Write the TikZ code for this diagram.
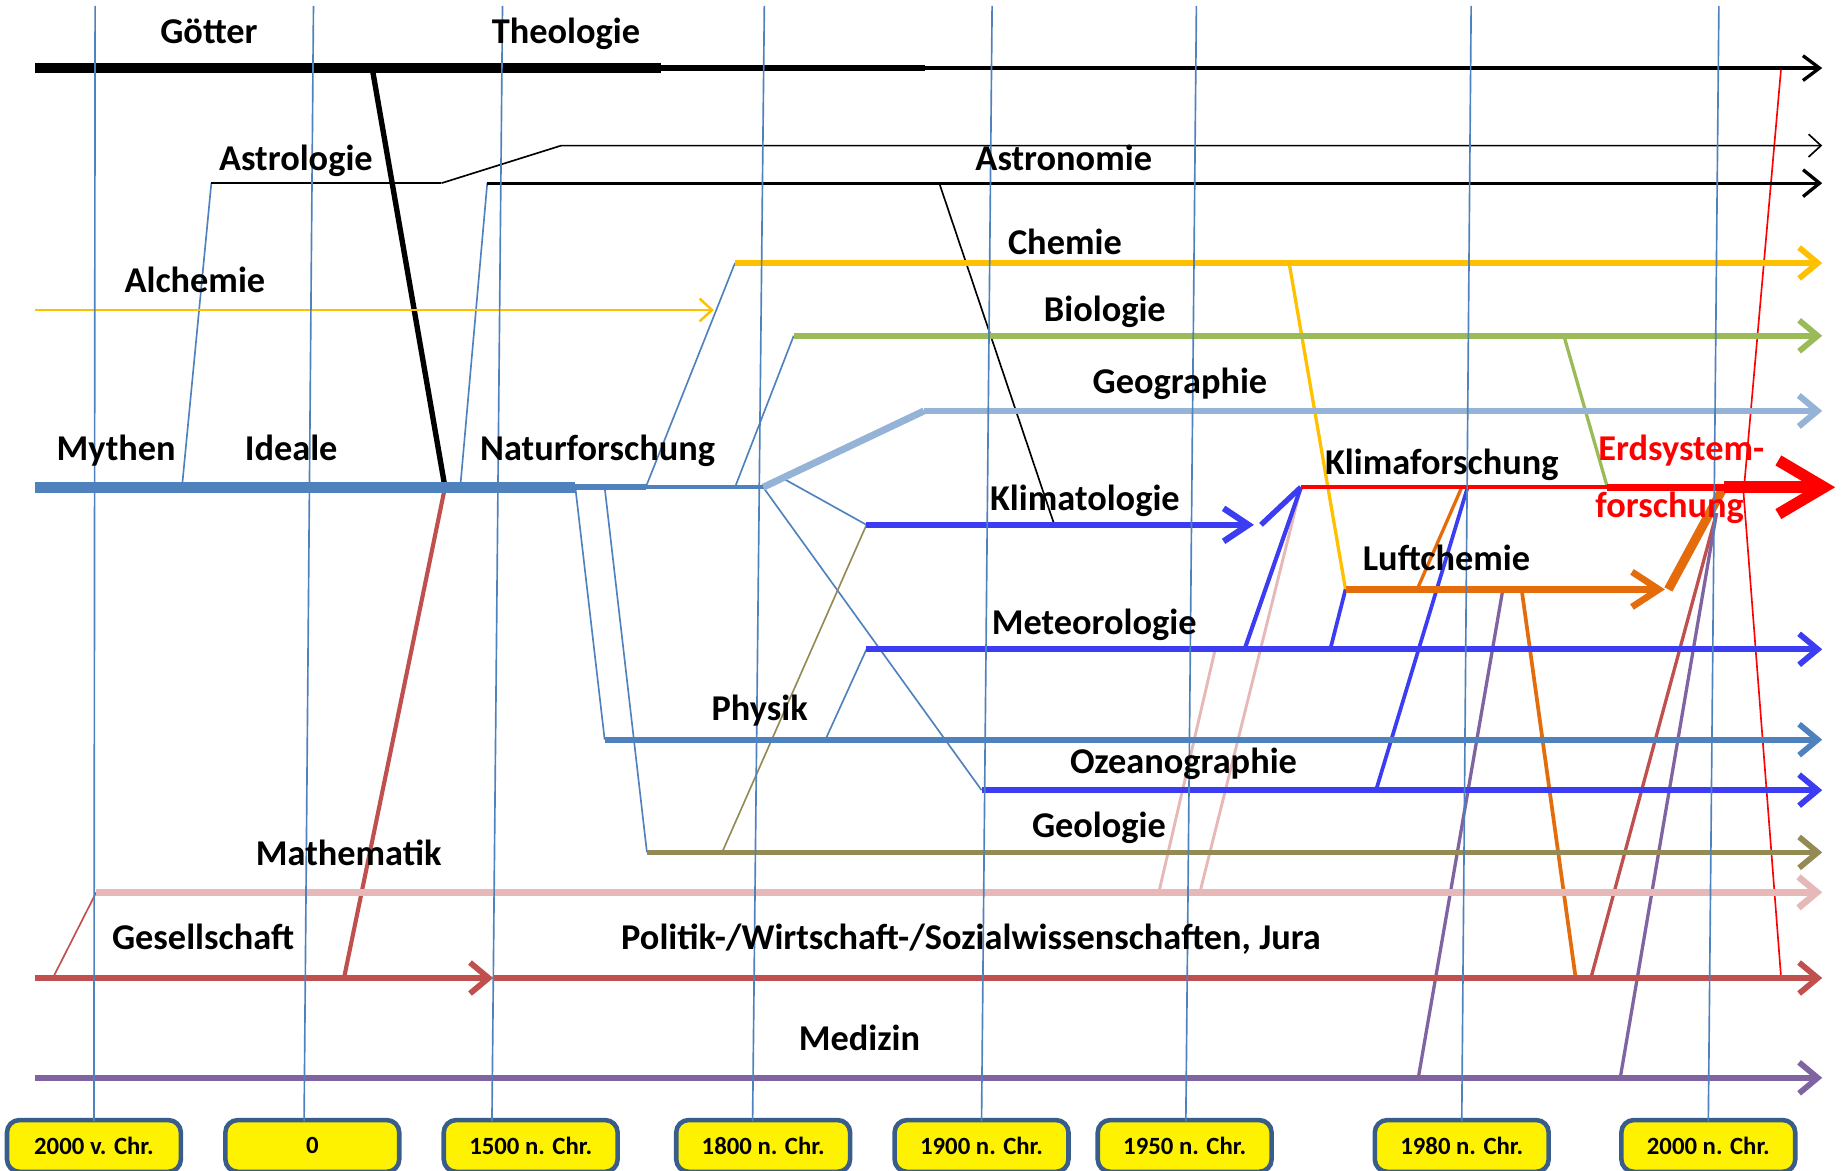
\documentclass[tikz,border=0pt]{standalone}
\usepackage{fontspec}
\setmainfont{Carlito}
\usetikzlibrary{arrows.meta, calc}
\definecolor{zeitblau}{HTML}{4F81BD}
\definecolor{geoblau}{HTML}{95B3D7}
\definecolor{chemgelb}{HTML}{FFC000}
\definecolor{biogruen}{HTML}{9BBB59}
\definecolor{klimablau}{HTML}{3C3CF2}
\definecolor{geooliv}{HTML}{948A54}
\definecolor{mathrosa}{HTML}{E6B9B8}
\definecolor{gesrot}{HTML}{C0504D}
\definecolor{medlila}{HTML}{8064A2}
\definecolor{luftorange}{HTML}{E46C0A}
\definecolor{boxrand}{HTML}{385D8A}

\begin{document}
\begin{tikzpicture}[x=0.01cm, y=-0.01cm,
    every node/.style={font=\bfseries\fontsize{8.8}{10}\selectfont},
    fach/.style={anchor=base, inner sep=0pt},
    duenn/.style={line width=0.4pt},
    strom/.style={line width=1.4pt, -{Straight Barb[length=4.5pt,width=7.5pt]}},
    jahr/.style={draw=boxrand, fill=yellow, line width=1.1pt, rounded corners=3pt, minimum width=1.48cm, minimum height=0.44cm, inner sep=0pt, font=\bfseries\fontsize{6}{7}\selectfont}
]
    \useasboundingbox (0,0) rectangle (1568,997);

    % Linienpunkte
    \coordinate (theoA) at (30,58);   \coordinate (theoB) at (290,58);  \coordinate (theoC) at (563,58);
    \coordinate (theoD) at (788,58);  \coordinate (theoE) at (835,58);  \coordinate (theoZ) at (1552,58);
    \coordinate (astrA) at (180,156); \coordinate (astrB) at (376,156); \coordinate (astrC) at (478,124);
    \coordinate (astrZ) at (1552,124);
    \coordinate (astnA) at (415,156); \coordinate (astnZ) at (1552,156);
    \coordinate (alchA) at (30,264);  \coordinate (alchZ) at (608,264);
    \coordinate (chemA) at (626,224); \coordinate (chemZ) at (1552,224);
    \coordinate (bioA) at (676,286);  \coordinate (bioZ) at (1552,286);
    \coordinate (geogA) at (787,350); \coordinate (geogZ) at (1552,350);
    \coordinate (mythA) at (30,415);  \coordinate (mythB) at (490,415); \coordinate (mythC) at (550,415);
    \coordinate (mythD) at (650,415);
    \coordinate (klimA) at (738,447); \coordinate (klimZ) at (1068,447);
    \coordinate (kfA) at (1108,415);  \coordinate (kfB) at (1369,415);  \coordinate (kfC) at (1468,415);
    \coordinate (kfZ) at (1563,415);
    \coordinate (luftA) at (1146,502); \coordinate (luftZ) at (1418,502);
    \coordinate (metA) at (738,553);  \coordinate (metZ) at (1552,553);
    \coordinate (physA) at (515,630); \coordinate (physZ) at (1552,630);
    \coordinate (ozeaA) at (836,673); \coordinate (ozeaZ) at (1552,673);
    \coordinate (geolA) at (551,726); \coordinate (geolZ) at (1552,726);
    \coordinate (mathA) at (82,760);  \coordinate (mathZ) at (1552,760);
    \coordinate (gesA) at (30,833);   \coordinate (gesB) at (420,833);  \coordinate (gesZ) at (1552,833);
    \coordinate (medA) at (30,918);   \coordinate (medZ) at (1552,918);
    \coordinate (esJ) at (1462,437);
    \coordinate (rotV) at (1485,420);
    \coordinate (geogK) at ($(mythD)!0.12!(geogA)$);

    % Verbindungen
    \draw[zeitblau, duenn] (155,0 |- mythA) -- (astrA);
    \draw[zeitblau, duenn] (392,0 |- mythA) -- (astnA);
    \draw[black, line width=1.3pt] (317,0 |- theoA) -- (379,0 |- mythA);
    \draw[gesrot, line width=1pt] (379,0 |- mythA) -- (293,0 |- gesA);
    \draw[zeitblau, duenn] (mythC) -- (chemA);
    \draw[zeitblau, duenn] (626,0 |- mythA) -- (bioA);
    \draw[zeitblau, duenn] (geogK) -- (klimA);
    \draw[zeitblau, duenn] (mythD) -- (ozeaA);
    \draw[geooliv, duenn] (klimA) -- (615,0 |- geolA);
    \draw[zeitblau, duenn] (703,0 |- physA) -- (metA);
    \draw[zeitblau, duenn] (mythB) -- (physA);
    \draw[zeitblau, duenn] (515,0 |- mythA) -- (geolA);
    \draw[gesrot, duenn] (45,0 |- gesA) -- (mathA);
    \draw[black, duenn] (800,0 |- astnA) -- (898,0 |- klimA);
    \draw[mathrosa, line width=0.7pt] (987,0 |- mathA) -- (1035,0 |- metA);
    \draw[mathrosa, line width=0.7pt] (1022,0 |- mathA) -- (kfA);
    \draw[klimablau, line width=1pt] (1060,0 |- metA) -- (kfA);
    \draw[klimablau, line width=1.3pt] (1074,0 |- klimA) -- (kfA);
    \draw[chemgelb, line width=0.8pt] (1098,0 |- chemA) -- (luftA);
    \draw[klimablau, line width=0.9pt] (1133,0 |- metA) -- (luftA);
    \draw[luftorange, line width=0.8pt] (1207,0 |- luftA) -- (1245,0 |- kfA);
    \draw[klimablau, line width=0.9pt] (1172,0 |- ozeaA) -- (1250,0 |- kfA);
    \draw[biogruen, line width=0.8pt] (1332,0 |- bioA) -- (kfB);
    \draw[medlila, line width=0.8pt] (1280,0 |- luftA) -- (1208,0 |- medA);
    \draw[luftorange, line width=0.9pt] (1296,0 |- luftA) -- (1342,0 |- gesA);
    \draw[gesrot, line width=0.8pt] (esJ) -- (1355,0 |- gesA);
    \draw[medlila, line width=0.8pt] (esJ) -- (1380,0 |- medA);
    \draw[red, line width=0.4pt] (1517,0 |- theoA) -- (rotV) -- (1517,0 |- gesA);

    % Hauptlinien
    \draw[black, line width=2.6pt] (theoA) -- (theoB);
    \draw[black, line width=2.3pt] (theoB) -- (theoC);
    \draw[black, line width=1.5pt] (theoC) -- (theoD);
    \draw[black, line width=1pt] (theoD) -- (theoE);
    \draw[black, line width=0.8pt, -{Straight Barb[length=4pt,width=6pt]}] (theoE) -- (theoZ);
    \draw[black, line width=0.6pt] (astrA) -- (astrB);
    \draw[black, duenn, -{Straight Barb[length=3pt,width=5.5pt]}] (astrB) -- (astrC) -- (astrZ);
    \draw[black, line width=0.8pt, -{Straight Barb[length=4pt,width=6.5pt]}] (astnA) -- (astnZ);
    \draw[chemgelb, line width=0.6pt, -{Straight Barb[length=3pt,width=5.5pt]}] (alchA) -- (alchZ);
    \draw[chemgelb, strom] (chemA) -- (chemZ);
    \draw[biogruen, strom] (bioA) -- (bioZ);
    \draw[geoblau, line width=1.7pt] (mythD) -- (geogA);
    \draw[geoblau, strom, line width=1.5pt] (geogA) -- (geogZ);
    \draw[zeitblau, line width=2.6pt] (mythA) -- (mythB);
    \draw[zeitblau, line width=1.4pt] (mythB) -- (mythC);
    \draw[zeitblau, line width=1pt] (mythC) -- (mythD);
    \draw[klimablau, line width=1.5pt, -{Straight Barb[length=6pt,width=8pt]}] (klimA) -- (klimZ);
    \draw[klimablau, strom] (metA) -- (metZ);
    \draw[zeitblau, strom] (physA) -- (physZ);
    \draw[klimablau, strom] (ozeaA) -- (ozeaZ);
    \draw[geooliv, strom] (geolA) -- (geolZ);
    \draw[mathrosa, strom, line width=1.6pt] (mathA) -- (mathZ);
    \draw[gesrot, strom] (gesA) -- (gesB);
    \draw[gesrot, strom] (gesB) -- (gesZ);
    \draw[medlila, strom] (medA) -- (medZ);
    \draw[luftorange, line width=1.6pt, -{Straight Barb[length=6.5pt,width=8.5pt]}] (luftA) -- (luftZ);
    \draw[luftorange, line width=2.2pt] (1421,0 |- luftA) -- (kfC);
    \draw[red, line width=1pt] (kfA) -- (kfB);
    \draw[red, line width=1.6pt] (kfB) -- (kfC);
    \draw[red, line width=2.8pt, -{Straight Barb[length=11pt,width=13pt]}] (kfC) -- (kfZ);

    % Zeitachse
    \foreach \xo/\xu/\xb/\jahrtext [count=\i] in {81/80/80/2000 v. Chr., 267/259/266/0, 428/419/452/1500 n. Chr., 651/641/650/1800 n. Chr., 845/836/836/1900 n. Chr., 1019/1010/1009/1950 n. Chr., 1253/1245/1245/1980 n. Chr., 1464/1455/1455/2000 n. Chr.}
    {
        \node[jahr] (jahr\i) at (\xb,976) {\jahrtext};
        \coordinate (zeitO\i) at (\xo,5);
        \coordinate (zeitU\i) at (\xu,955);
        \draw[zeitblau, duenn] (zeitO\i) -- (zeitU\i);
    }

    % Beschriftungen
    \node[fach] (goetter) at (178,37) {Götter};
    \node[fach] (theologie) at (482,37) {Theologie};
    \node[fach] (astrologie) at (252,145) {Astrologie};
    \node[fach] (astronomie) at (906,145) {Astronomie};
    \node[fach] (chemie) at (907,217) {Chemie};
    \node[fach] (alchemie) at (166,249) {Alchemie};
    \node[fach] (biologie) at (941,274) {Biologie};
    \node[fach] (geographie) at (1005,335) {Geographie};
    \node[fach] (mythen) at (99,392) {Mythen};
    \node[fach] (ideale) at (248,392) {Ideale};
    \node[fach] (naturf) at (509,392) {Naturforschung};
    \node[fach] (klimaf) at (1228,404) {Klimaforschung};
    \node[fach, text=red] (erdsys) at (1432,392) {Erdsystem-};
    \node[fach, text=red] (erdforsch) at (1422,441) {forschung};
    \node[fach] (klimatol) at (924,435) {Klimatologie};
    \node[fach] (luftchem) at (1232,486) {Luftchemie};
    \node[fach] (meteo) at (932,540) {Meteorologie};
    \node[fach] (physik) at (647,614) {Physik};
    \node[fach] (ozeano) at (1008,659) {Ozeanographie};
    \node[fach] (geologie) at (936,713) {Geologie};
    \node[fach] (mathe) at (297,737) {Mathematik};
    \node[fach] (gesell) at (173,809) {Gesellschaft};
    \node[fach] (politik) at (827,809) {Politik-/Wirtschaft-/Sozialwissenschaften, Jura};
    \node[fach] (medizin) at (732,895) {Medizin};
\end{tikzpicture}
\end{document}
